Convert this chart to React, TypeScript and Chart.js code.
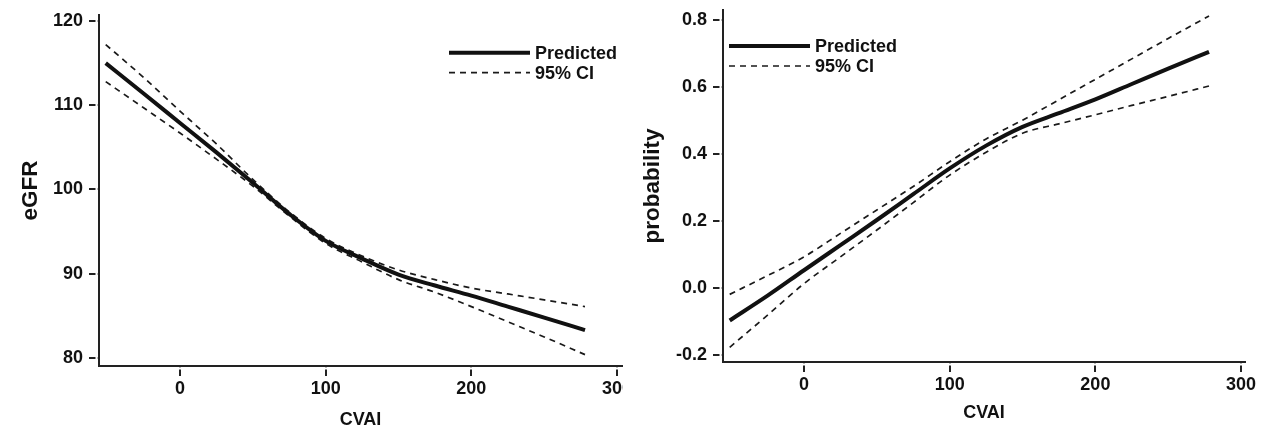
import React, { useEffect, useRef } from "react";
import { Chart, registerables } from "chart.js";

Chart.register(...registerables);

const FONT = '"Liberation Sans", Arial, Helvetica, sans-serif';
const INK = "#111";

// ---- data ----
const cvai = [-51, -25, 0, 25, 50, 75, 100, 125, 150, 175, 200, 225, 250, 278];

const egfrPredicted = [115.0, 111.4, 107.9, 104.4, 100.8, 97.1, 93.9, 91.8, 89.9, 88.6, 87.4, 86.1, 84.8, 83.3];
const egfrUpper = [117.2, 113.3, 109.3, 105.4, 101.2, 97.35, 94.2, 92.1, 90.45, 89.3, 88.3, 87.6, 86.9, 86.1];
const egfrLower = [112.8, 109.7, 106.7, 103.6, 100.4, 96.85, 93.6, 91.4, 89.3, 87.8, 86.1, 84.3, 82.5, 80.4];

const probPredicted = [-0.097, -0.023, 0.053, 0.128, 0.203, 0.28, 0.357, 0.425, 0.481, 0.522, 0.563, 0.609, 0.655, 0.705];
const probUpper = [-0.019, 0.037, 0.093, 0.163, 0.233, 0.303, 0.377, 0.445, 0.501, 0.562, 0.623, 0.684, 0.745, 0.812];
const probLower = [-0.177, -0.081, 0.013, 0.093, 0.173, 0.255, 0.337, 0.405, 0.462, 0.49, 0.517, 0.545, 0.572, 0.603];

const xTicks = [0, 100, 200, 300];
const egfrTicks = [80, 90, 100, 110, 120];
const probTicks = [-0.2, 0, 0.2, 0.4, 0.6, 0.8];

const xTitle = "CVAI";
const leftTitle = "eGFR";
const rightTitle = "probability";
const predictedLabel = "Predicted";
const ciLabel = "95% CI";

// ---- plugins ----
const axisGapPlugin = {
  id: "axisGap",
  afterDraw(chart: any) {
    const { ctx, chartArea } = chart;
    const { left, right, top, bottom } = chartArea;
    ctx.save();
    ctx.fillStyle = "#fff";
    // small gap between the y axis line and its tick marks
    ctx.fillRect(left - 3.5, top - 14, 2.2, bottom - top + 13);
    // small gap between the x axis line and its tick marks
    ctx.fillRect(left + 1, bottom + 1.3, right - left + 14, 2.2);
    ctx.restore();
  },
};

const lineLegendPlugin = {
  id: "lineLegend",
  afterDraw(chart: any, _args: any, opts: any) {
    const { ctx } = chart;
    const items = chart.data.datasets.filter((d: any) => d.showInLegend);
    ctx.save();
    ctx.font = `bold ${opts.fontSize}px ${FONT}`;
    ctx.textBaseline = "middle";
    ctx.textAlign = "left";
    items.forEach((d: any, i: number) => {
      const y = opts.y + i * opts.rowGap;
      ctx.beginPath();
      ctx.setLineDash(d.borderDash || []);
      ctx.lineWidth = d.borderWidth;
      ctx.strokeStyle = d.borderColor;
      ctx.moveTo(opts.x, y);
      ctx.lineTo(opts.x + opts.len, y);
      ctx.stroke();
      ctx.setLineDash([]);
      ctx.fillStyle = INK;
      ctx.fillText(d.label, opts.x + opts.len + 5, y + 1);
    });
    ctx.restore();
  },
};

type PanelProps = {
  width: number;
  clipWidth: number;
  offsetLeft: number;
  pred: number[];
  upper: number[];
  lower: number[];
  yTicks: number[];
  yMin: number;
  yMax: number;
  xMin: number;
  xMax: number;
  yTitle: string;
  yTitlePad: number;
  xTitlePad: number;
  decimals: number;
  area: { left: number; top: number; right: number; bottom: number };
  legend: { x: number; y: number; rowGap: number; len: number; fontSize: number };
};

function Panel(p: PanelProps) {
  const ref = useRef<HTMLCanvasElement | null>(null);
  useEffect(() => {
    if (!ref.current) return;
    const H = 432;
    const mk = (vals: number[]) => cvai.map((x, i) => ({ x, y: vals[i] }));
    const tickFont = { family: FONT, size: 18, weight: "bold" as const };
    const dashed = {
      borderColor: "#1a1a1a",
      borderWidth: 1.7,
      borderDash: [6, 5],
      pointRadius: 0,
      cubicInterpolationMode: "monotone",
    };
    const chart = new Chart(ref.current, {
      type: "line",
      data: {
        datasets: [
          {
            label: predictedLabel,
            data: mk(p.pred),
            borderColor: INK,
            borderWidth: 4,
            pointRadius: 0,
            cubicInterpolationMode: "monotone",
            showInLegend: true,
          } as any,
          { ...dashed, label: ciLabel, data: mk(p.upper), showInLegend: true } as any,
          { ...dashed, label: ciLabel + " (lower)", data: mk(p.lower) } as any,
        ],
      },
      options: {
        responsive: false,
        animation: false,
        devicePixelRatio: 1,
        events: [],
        layout: {
          padding: { left: 0, top: p.area.top, right: p.width - p.area.right, bottom: 0 },
        },
        plugins: {
          legend: { display: false },
          tooltip: { enabled: false },
          lineLegend: p.legend,
        } as any,
        scales: {
          x: {
            type: "linear",
            min: p.xMin,
            max: p.xMax,
            afterBuildTicks: (s: any) => {
              s.ticks = xTicks.map((v) => ({ value: v }));
            },
            afterFit: (s: any) => {
              s.height = H - p.area.bottom;
              s.paddingLeft = 0;
              s.paddingRight = 0;
              s.paddingTop = 0;
              s.paddingBottom = 0;
            },
            ticks: {
              font: tickFont,
              color: INK,
              padding: 2,
              maxRotation: 0,
              autoSkip: false,
              callback: (v: any) => String(v),
            },
            grid: {
              display: true,
              drawOnChartArea: false,
              drawTicks: true,
              tickLength: 10,
              color: "#222",
              lineWidth: 2,
            },
            border: { display: true, color: "#222", width: 2 },
            title: {
              display: true,
              text: xTitle,
              color: INK,
              font: { family: FONT, size: 18, weight: "bold" },
              padding: { top: 0, bottom: p.xTitlePad },
            },
          },
          y: {
            type: "linear",
            min: p.yMin,
            max: p.yMax,
            afterBuildTicks: (s: any) => {
              s.ticks = p.yTicks.map((v) => ({ value: v }));
            },
            afterFit: (s: any) => {
              s.width = p.area.left;
              s.paddingLeft = 0;
              s.paddingRight = 0;
              s.paddingTop = 0;
              s.paddingBottom = 0;
            },
            ticks: {
              font: tickFont,
              color: INK,
              padding: 6,
              autoSkip: false,
              callback: (v: any) => Number(v).toFixed(p.decimals),
            },
            grid: {
              display: true,
              drawOnChartArea: false,
              drawTicks: true,
              tickLength: 10,
              color: "#222",
              lineWidth: 2,
            },
            border: { display: true, color: "#222", width: 2 },
            title: {
              display: true,
              text: p.yTitle,
              color: INK,
              font: { family: FONT, size: 22.5, weight: "bold" },
              padding: { top: p.yTitlePad, bottom: 0 },
            },
          },
        },
      },
      plugins: [axisGapPlugin, lineLegendPlugin],
    });
    return () => chart.destroy();
  }, []);

  return (
    <div
      style={{
        position: "absolute",
        left: p.offsetLeft,
        top: 0,
        width: p.clipWidth,
        height: 432,
        overflow: "hidden",
        background: "#fff",
      }}
    >
      <canvas ref={ref} width={p.width} height={432} style={{ width: p.width, height: 432, display: "block" }} />
    </div>
  );
}

export default function App() {
  return (
    <div style={{ position: "absolute", left: 0, top: 0, width: 1262, height: 432, background: "#fff", overflow: "hidden" }}>
      <Panel
        width={660}
        clipWidth={623}
        offsetLeft={0}
        pred={egfrPredicted}
        upper={egfrUpper}
        lower={egfrLower}
        yTicks={egfrTicks}
        yMin={79.05}
        yMax={120.71}
        xMin={-55.6}
        xMax={303.4}
        yTitle={leftTitle}
        yTitlePad={17}
        xTitlePad={1}
        decimals={0}
        area={{ left: 99, top: 15, right: 622, bottom: 366 }}
        legend={{ x: 449, y: 52.7, rowGap: 20, len: 81, fontSize: 18 }}
      />
      <Panel
        width={631}
        clipWidth={631}
        offsetLeft={631}
        pred={probPredicted}
        upper={probUpper}
        lower={probLower}
        yTicks={probTicks}
        yMin={-0.2209}
        yMax={0.8299}
        xMin={-55.6}
        xMax={302.7}
        yTitle={rightTitle}
        yTitlePad={8}
        xTitlePad={8}
        decimals={1}
        area={{ left: 92, top: 10, right: 614, bottom: 362 }}
        legend={{ x: 98, y: 46, rowGap: 20, len: 81, fontSize: 18 }}
      />
    </div>
  );
}
